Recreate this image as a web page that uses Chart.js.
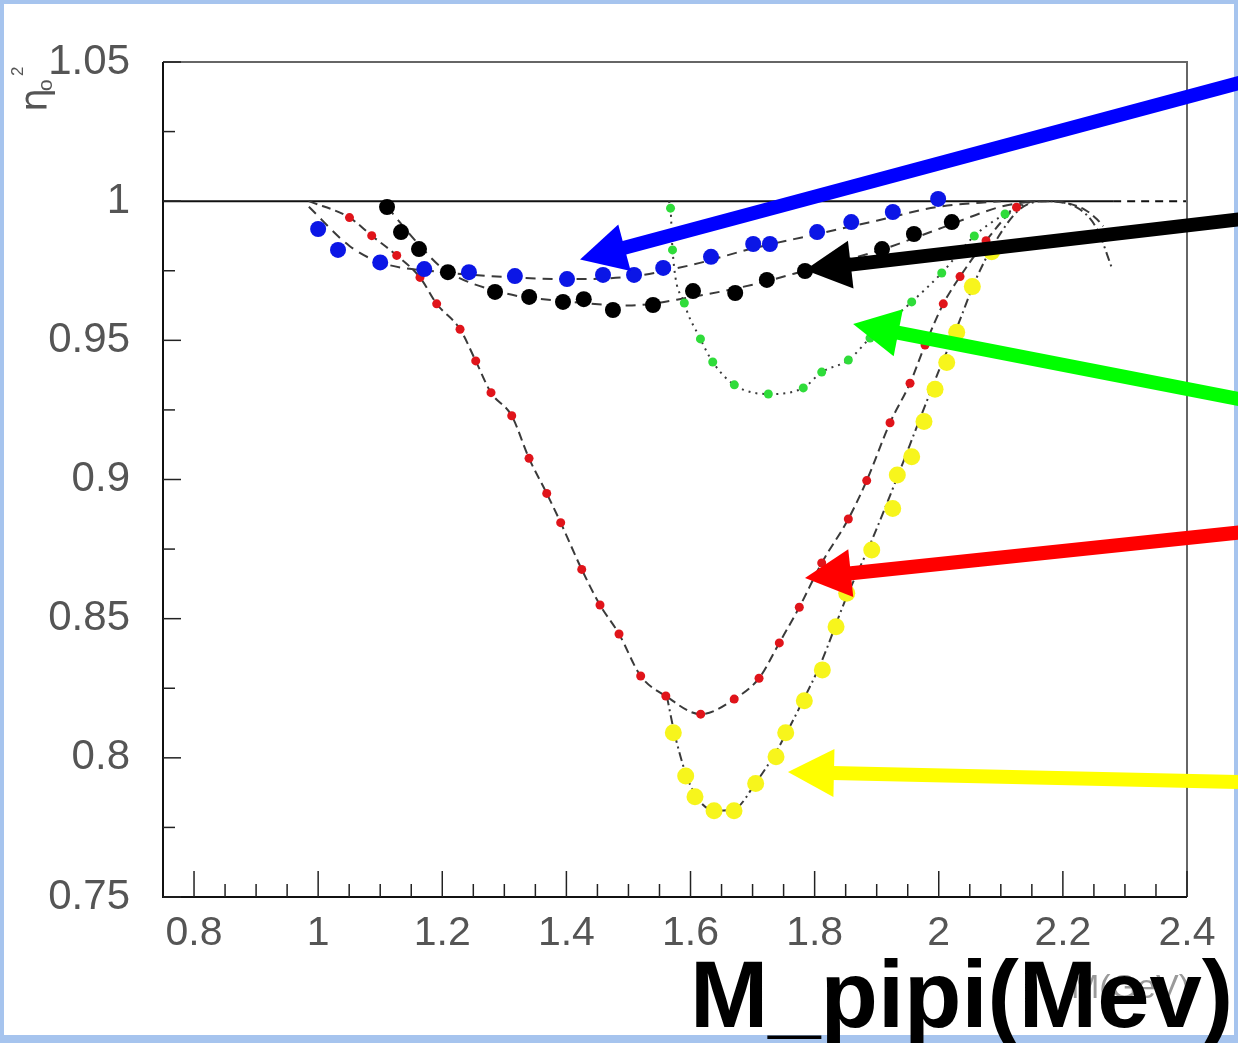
<!DOCTYPE html>
<html><head><meta charset="utf-8">
<script src="https://cdn.jsdelivr.net/npm/chart.js@4.4.1/dist/chart.umd.min.js"></script>
<style>html,body{margin:0;padding:0;background:#a6c4ee;overflow:hidden}canvas{display:block}</style>
</head><body>
<canvas id="c" width="1238" height="1043"></canvas>
<script>
// ---- axis ticks ----
const xTickValues = [0.8, 1.0, 1.2, 1.4, 1.6, 1.8, 2.0, 2.2, 2.4];
const xTickLabels = ['0.8', '1', '1.2', '1.4', '1.6', '1.8', '2', '2.2', '2.4'];
const xMinorTicks = [0.85,0.9,0.95,1.05,1.1,1.15,1.25,1.3,1.35,1.45,1.5,1.55,1.65,1.7,1.75,1.85,1.9,1.95,2.05,2.1,2.15,2.25,2.3,2.35];
const yTickValues = [0.75, 0.8, 0.85, 0.9, 0.95, 1.0, 1.05];
const yTickLabels = ['0.75', '0.8', '0.85', '0.9', '0.95', '1', '1.05'];
const yMinorTicks = [0.775, 0.825, 0.875, 0.925, 0.975, 1.025];

// ---- data points ----
const blueX = [1.0, 1.032, 1.10, 1.171, 1.243, 1.317, 1.401, 1.459, 1.509, 1.556, 1.633, 1.701, 1.728, 1.804, 1.859, 1.926, 1.999];
const blueY = [0.990, 0.9825, 0.978, 0.9756, 0.9745, 0.9731, 0.972, 0.9735, 0.9735, 0.976, 0.980, 0.9846, 0.9846, 0.9889, 0.9925, 0.9961, 1.0008];

const blackX = [1.111, 1.1335, 1.1625, 1.209, 1.285, 1.340, 1.3945, 1.428, 1.475, 1.5396, 1.604, 1.672, 1.723, 1.7845, 1.9086, 1.960, 2.021];
const blackY = [0.9979, 0.9889, 0.9828, 0.9745, 0.9674, 0.9656, 0.9638, 0.9648, 0.9609, 0.9627, 0.9677, 0.967, 0.9717, 0.9749, 0.9828, 0.9882, 0.9925];

const greenX = [1.5678, 1.571, 1.590, 1.616, 1.6358, 1.6706, 1.7254, 1.7817, 1.8114, 1.8543, 1.8892, 1.9564, 2.0048, 2.0573, 2.1068];
const greenY = [0.9975, 0.9825, 0.9634, 0.9505, 0.9422, 0.934, 0.9307, 0.9329, 0.9386, 0.9429, 0.9508, 0.9638, 0.9742, 0.9875, 0.9954];

const redX = [1.0505, 1.0863, 1.1266, 1.1641, 1.191, 1.2286, 1.2539, 1.2785, 1.3119, 1.3398, 1.3683, 1.3908, 1.4247, 1.4542, 1.4848, 1.5197, 1.5602, 1.6164, 1.6704, 1.7104, 1.7431, 1.7753, 1.8114, 1.8543, 1.8839, 1.9215, 1.9537, 1.9779, 2.0073, 2.0343, 2.0762, 2.1253];
const redY = [0.9941, 0.9876, 0.9805, 0.9726, 0.9631, 0.954, 0.9426, 0.9312, 0.9229, 0.9076, 0.895, 0.8845, 0.8677, 0.8549, 0.8445, 0.8294, 0.8222, 0.8157, 0.8211, 0.8286, 0.8413, 0.8541, 0.870, 0.8858, 0.8996, 0.9204, 0.9346, 0.9483, 0.9631, 0.9729, 0.9858, 0.9978];

const yellowX = [1.5723, 1.5922, 1.6072, 1.6379, 1.6701, 1.705, 1.7378, 1.7534, 1.7834, 1.8124, 1.8345, 1.8517, 1.892, 1.9258, 1.9332, 1.9564, 1.9762, 1.994, 2.0128, 2.0289, 2.0541, 2.0853];
const yellowY = [0.809, 0.7935, 0.786, 0.781, 0.781, 0.7908, 0.8004, 0.809, 0.8205, 0.8316, 0.8471, 0.8591, 0.8747, 0.8896, 0.9016, 0.9082, 0.9208, 0.9324, 0.942, 0.9529, 0.9693, 0.9818];

// ---- fit curves (dashed lines) ----
const blueFitX = [0.985, 1.05, 1.1, 1.2, 1.3, 1.4, 1.5, 1.6, 1.7, 1.8, 1.9, 2.0, 2.1];
const blueFitY = [0.998, 0.984, 0.978, 0.9745, 0.9728, 0.972, 0.9728, 0.977, 0.983, 0.988, 0.993, 0.998, 1.0];

const blackFitX = [1.111, 1.16, 1.2, 1.3, 1.4, 1.5, 1.6, 1.7, 1.8, 1.9, 2.0, 2.1, 2.15];
const blackFitY = [0.998, 0.985, 0.976, 0.967, 0.964, 0.9625, 0.9655, 0.970, 0.976, 0.982, 0.990, 0.998, 1.0];

const greenFitX = [1.565, 1.5678, 1.571, 1.590, 1.616, 1.6358, 1.6706, 1.7254, 1.7817, 1.8114, 1.8543, 1.8892, 1.9564, 2.0048, 2.0573, 2.1068, 2.15];
const greenFitY = [1.0, 0.9975, 0.9825, 0.9634, 0.9505, 0.9422, 0.934, 0.9307, 0.9329, 0.9386, 0.9429, 0.9508, 0.9638, 0.9742, 0.9875, 0.9954, 1.0];

const redFitX = [0.985, 1.0505, 1.0863, 1.1266, 1.1641, 1.191, 1.2286, 1.2539, 1.2785, 1.3119, 1.3398, 1.3683, 1.3908, 1.4247, 1.4542, 1.4848, 1.5197, 1.5602, 1.6164, 1.6704, 1.7104, 1.7431, 1.7753, 1.8114, 1.8543, 1.8839, 1.9215, 1.9537, 1.9779, 2.0073, 2.0343, 2.0762, 2.1253, 2.16, 2.2, 2.235, 2.255, 2.265];
const redFitY = [1.0, 0.9941, 0.9876, 0.9805, 0.9726, 0.9631, 0.954, 0.9426, 0.9312, 0.9229, 0.9076, 0.895, 0.8845, 0.8677, 0.8549, 0.8445, 0.8294, 0.8222, 0.8157, 0.8211, 0.8286, 0.8413, 0.8541, 0.870, 0.8858, 0.8996, 0.9204, 0.9346, 0.9483, 0.9631, 0.9729, 0.9858, 0.9978, 1.0, 0.9995, 0.997, 0.9935, 0.991];

const yellowFitX = [1.562, 1.575, 1.6, 1.64, 1.67, 1.705, 1.74, 1.78, 1.81, 1.85, 1.89, 1.93, 1.97, 2.0, 2.03, 2.06, 2.09, 2.13, 2.17, 2.22, 2.255, 2.279];
const yellowFitY = [0.822, 0.808, 0.790, 0.781, 0.7815, 0.791, 0.803, 0.820, 0.834, 0.857, 0.877, 0.899, 0.922, 0.939, 0.955, 0.972, 0.985, 0.997, 1.0, 0.998, 0.99, 0.976];

const unityX = [0.75, 2.281, 2.4];
const unityY = [1.0, 1.0, 1.0];

// ---- annotation arrows (tail -> tip, data units) ----
const arrowColors = ['#0000ff', '#000000', '#00ff00', '#ff0000', '#ffff00'];
const arrowTipX  = [1.422, 1.7845, 1.862, 1.7845, 1.757];
const arrowTipY  = [0.979, 0.9753, 0.9559, 0.8646, 0.7949];
const arrowTailX = [2.49, 2.49, 2.49, 2.49, 2.49];
const arrowTailY = [1.0428, 0.9936, 0.9286, 0.8811, 0.7913];

const pts = (xs, ys) => xs.map((x, i) => ({x, y: ys[i]}));

function markers(label, xs, ys, color, r) {
  return {label, data: pts(xs, ys), showLine: false, pointRadius: r, pointHoverRadius: r,
    pointBackgroundColor: color, pointBorderColor: color, pointBorderWidth: 0, order: 0};
}
function fit(label, xs, ys, dash) {
  return {label, data: pts(xs, ys), showLine: true, pointRadius: 0, borderColor: '#3a3a3a',
    borderWidth: 2, borderDash: dash, cubicInterpolationMode: 'monotone', fill: false, order: 1};
}

const FONT = '"Liberation Sans", Arial, sans-serif';

const decor = {
  id: 'decor',
  beforeDraw(chart) {
    const ctx = chart.ctx, W = chart.width, H = chart.height;
    ctx.save();
    ctx.fillStyle = '#a6c4ee';
    ctx.fillRect(0, 0, W, H);
    ctx.fillStyle = '#ffffff';
    ctx.fillRect(4, 4, W - 8, H - 12);
    ctx.restore();
  },
  afterDatasetsDraw(chart) {
    const ctx = chart.ctx, a = chart.chartArea, xs = chart.scales.x, ys = chart.scales.y;
    ctx.save();
    ctx.lineWidth = 2;
    ctx.strokeStyle = '#666';
    ctx.beginPath(); ctx.moveTo(a.left, a.top); ctx.lineTo(a.right, a.top); ctx.lineTo(a.right, a.bottom); ctx.stroke();
    ctx.strokeStyle = '#111';
    ctx.beginPath(); ctx.moveTo(a.left, a.top); ctx.lineTo(a.left, a.bottom); ctx.lineTo(a.right, a.bottom); ctx.stroke();
    ctx.lineWidth = 1.5;
    ctx.strokeStyle = '#222';
    xTickValues.forEach(v => { const p = xs.getPixelForValue(v); ctx.beginPath(); ctx.moveTo(p, a.bottom); ctx.lineTo(p, a.bottom - 26); ctx.stroke(); });
    xMinorTicks.forEach(v => { const p = xs.getPixelForValue(v); ctx.beginPath(); ctx.moveTo(p, a.bottom); ctx.lineTo(p, a.bottom - 13); ctx.stroke(); });
    yTickValues.forEach(v => { const p = ys.getPixelForValue(v); ctx.beginPath(); ctx.moveTo(a.left, p); ctx.lineTo(a.left + 18, p); ctx.stroke(); });
    yMinorTicks.forEach(v => { const p = ys.getPixelForValue(v); ctx.beginPath(); ctx.moveTo(a.left, p); ctx.lineTo(a.left + 12, p); ctx.stroke(); });
    ctx.restore();
  },
  afterDraw(chart) {
    const ctx = chart.ctx, xs = chart.scales.x, ys = chart.scales.y, a = chart.chartArea;
    ctx.save();
    arrowColors.forEach((c, i) => {
      const x0 = xs.getPixelForValue(arrowTailX[i]), y0 = ys.getPixelForValue(arrowTailY[i]);
      const x1 = xs.getPixelForValue(arrowTipX[i]), y1 = ys.getPixelForValue(arrowTipY[i]);
      const ang = Math.atan2(y1 - y0, x1 - x0), L = 46, Wd = 24;
      const bx = x1 - L * Math.cos(ang), by = y1 - L * Math.sin(ang);
      ctx.strokeStyle = c; ctx.fillStyle = c; ctx.lineWidth = 14; ctx.lineCap = 'butt';
      ctx.beginPath(); ctx.moveTo(x0, y0); ctx.lineTo(bx + 2 * Math.cos(ang), by + 2 * Math.sin(ang)); ctx.stroke();
      ctx.beginPath(); ctx.moveTo(x1, y1);
      ctx.lineTo(bx - Wd * Math.sin(ang), by + Wd * Math.cos(ang));
      ctx.lineTo(bx + Wd * Math.sin(ang), by - Wd * Math.cos(ang));
      ctx.closePath(); ctx.fill();
    });
    ctx.fillStyle = '#555';
    ctx.translate(47, 112);
    ctx.rotate(-Math.PI / 2);
    ctx.textAlign = 'left'; ctx.textBaseline = 'alphabetic';
    ctx.font = '38px "DejaVu Sans", sans-serif';
    ctx.fillText('η', 0, 0);
    ctx.font = '21px ' + FONT;
    ctx.fillText('o', 21, 5);
    ctx.font = '17px ' + FONT;
    ctx.fillText('2', 36, -24);
    ctx.restore();
    ctx.save();
    ctx.fillStyle = '#9a9a9a';
    ctx.font = '34px ' + FONT;
    ctx.textAlign = 'right'; ctx.textBaseline = 'alphabetic';
    ctx.fillText('M(GeV)', a.right + 3, 998);
    ctx.fillStyle = '#000';
    ctx.font = 'bold 94px ' + FONT;
    ctx.fillText('M_pipi(Mev)', 1233, 1027);
    ctx.restore();
  }
};

new Chart(document.getElementById('c'), {
  type: 'scatter',
  data: {
    datasets: [
      markers('blue', blueX, blueY, '#0b16e6', 8),
      markers('black', blackX, blackY, '#000000', 8),
      markers('yellow', yellowX, yellowY, '#f7f51c', 8.5),
      markers('red', redX, redY, '#e0141a', 4.5),
      markers('green', greenX, greenY, '#2fdc3a', 4.5),
      fit('blue fit', blueFitX, blueFitY, [10, 7]),
      fit('black fit', blackFitX, blackFitY, [10, 7]),
      fit('green fit', greenFitX, greenFitY, [2, 5]),
      fit('red fit', redFitX, redFitY, [9, 5]),
      fit('yellow fit', yellowFitX, yellowFitY, [9, 4, 2, 4]),
      {label: 'unity', data: pts(unityX, unityY), showLine: true, pointRadius: 0, borderColor: '#111', borderWidth: 2,
       segment: {borderDash: c => c.p0DataIndex === 1 ? [8, 6] : undefined}, order: 2}
    ]
  },
  options: {
    responsive: false,
    animation: false,
    events: [],
    layout: {padding: {top: 62, right: 51, left: 0, bottom: 0}},
    plugins: {legend: {display: false}, tooltip: {enabled: false}, title: {display: false}},
    scales: {
      x: {
        type: 'linear', min: 0.75, max: 2.4,
        grid: {display: false}, border: {display: false},
        afterBuildTicks: s => { s.ticks = xTickValues.map(v => ({value: v})); },
        afterFit: s => { s.height = 146; },
        ticks: {padding: 4, color: '#555', font: {family: FONT, size: 41},
          callback: (v) => { const i = xTickValues.findIndex(t => Math.abs(t - v) < 1e-9); return i >= 0 ? xTickLabels[i] : ''; },
          maxRotation: 0, autoSkip: false}
      },
      y: {
        type: 'linear', min: 0.75, max: 1.05,
        grid: {display: false}, border: {display: false},
        afterBuildTicks: s => { s.ticks = yTickValues.map(v => ({value: v})); },
        afterFit: s => { s.width = 163; },
        ticks: {padding: 25, color: '#555', font: {family: FONT, size: 42},
          callback: (v) => { const i = yTickValues.findIndex(t => Math.abs(t - v) < 1e-9); return i >= 0 ? yTickLabels[i] : ''; },
          autoSkip: false}
      }
    }
  },
  plugins: [decor]
});
</script>
</body></html>
